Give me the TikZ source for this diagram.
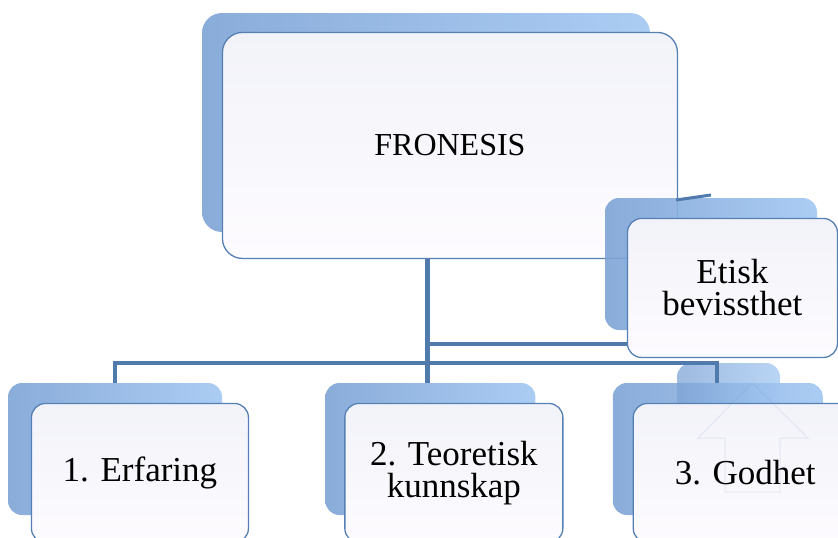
\documentclass[tikz,border=0pt]{standalone}
\usepackage{fontspec}
\setmainfont{Liberation Serif}
\usetikzlibrary{positioning, calc}
\definecolor{linkblue}{HTML}{4F7AAB}
\definecolor{edgeblue}{HTML}{5580B4}
\definecolor{backlight}{HTML}{A2C7F2}
\definecolor{backdark}{HTML}{7DA3D5}
\definecolor{facetop}{HTML}{F2F3F9}
\definecolor{facebot}{HTML}{FDFBFE}
\tikzset{
    face/.style={
        rectangle, rounded corners=14pt, draw=edgeblue, line width=1.3pt,
        top color=facetop, bottom color=facebot,
        inner sep=0pt, align=center, anchor=north west,
        font=\fontsize{35}{32}\selectfont
    },
    back/.style={
        rectangle, rounded corners=14pt, draw=none, inner sep=0pt,
        left color=backdark, right color=backlight, fill opacity=0.9
    },
    link/.style={
        draw=linkblue, line width=4.4pt
    }
}

\begin{document}
\begin{tikzpicture}[x=1pt, y=-1pt]
    \useasboundingbox (0,0) rectangle (838,538);
    \clip (0,0) rectangle (838,538);

    % ── Top box ──
    \node[back, minimum width=448pt, minimum height=219pt, rounded corners=20pt] (fron-bk) at (426,122.5) {};
    \node[face, minimum width=455pt, minimum height=226pt, rounded corners=20pt, font=\fontsize{32}{32}\selectfont]
        (fron) at ([shift={(20,19)}]fron-bk.north west) {FRONESIS};

    % ── Back plates ──
    \node[back, minimum width=212pt, minimum height=132pt] (etisk-bk) at (711,264) {};
    \node[back, minimum width=214pt, minimum height=132pt] (erf-bk)   at (115,449) {};
    \node[back, minimum width=210pt, minimum height=132pt, right=103pt of erf-bk] (teo-bk)    {};
    \node[back, minimum width=210pt, minimum height=132pt, right=77pt of teo-bk]  (godhet-bk) {};
    \node[back, minimum width=103pt, minimum height=129pt, fill opacity=0.75] (extra-bk) at (728.5,427.5) {};

    % ── Connectors ──
    \coordinate (trunk) at ($(fron.south)+(-22.5,0)$);
    \coordinate (bus)   at ($(trunk)+(0,104)$);
    \coordinate (asst)  at ($(trunk)+(0,85)$);
    \coordinate (drop)  at (717,383);
    \coordinate (stub-a) at (676,200);
    \coordinate (stub-b) at (711,195);
    \draw[link] (trunk) -- (trunk |- teo-bk.north);
    \draw[link] (erf-bk.north) |- (bus) -| (drop);
    \draw[link] (asst) -- ($(asst -| etisk-bk.west)+(22,0)$);
    \draw[link, line width=3pt] (stub-a) -- (stub-b);

    % ── Front boxes ──
    \node[face, minimum width=210pt, minimum height=139pt]
        (etisk) at ([shift={(22,20)}]etisk-bk.north west) {Etisk\\bevissthet};
    \node[face, minimum width=217pt, minimum height=139pt]
        (erf) at ([shift={(23,20)}]erf-bk.north west) {1. Erfaring};
    \node[face, minimum width=218pt, minimum height=139pt]
        (teo) at ([shift={(19,20)}]teo-bk.north west) {2. Teoretisk\\kunnskap};
    \node[face, minimum width=224pt, minimum height=139pt]
        (godhet) at ([shift={(20,20)}]godhet-bk.north west) {3. Godhet};

    % faint arrow outline
    \draw[edgeblue, draw opacity=0.12, line width=1pt]
        (752,383) -- (808,438) -- (780,438) -- (780,492) -- (725,492)
        -- (725,438) -- (698,438) -- cycle;

\end{tikzpicture}
\end{document}
